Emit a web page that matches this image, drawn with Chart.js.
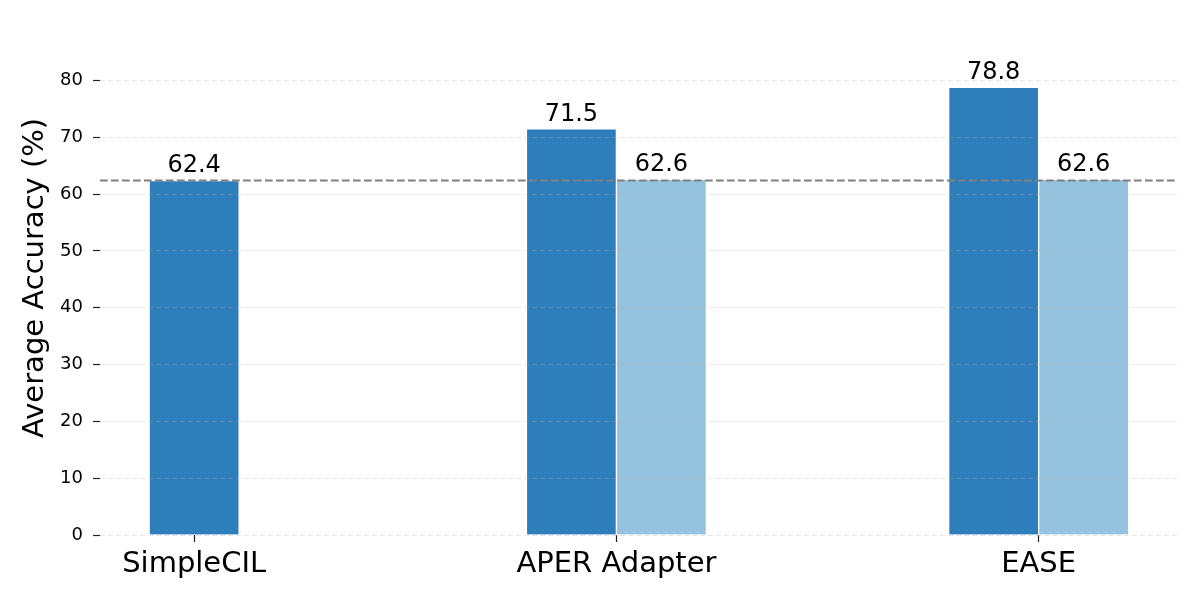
<!DOCTYPE html>
<html lang="en">
<head>
    <meta charset="UTF-8">
    <title>Average Accuracy</title>
    <script src="https://cdn.jsdelivr.net/npm/chart.js"></script>
    <style>
        html, body { margin: 0; padding: 0; background: #fff; }
        .chart-container { width: 1200px; height: 600px; }
    </style>
</head>
<body>
    <div class="chart-container">
        <canvas id="barChart" width="1200" height="600"></canvas>
    </div>
    <script>
        // Data
        var categories = ['SimpleCIL', 'APER Adapter', 'EASE'];
        var baseValues = [62.4, 71.5, 78.8];
        var extraValues = [null, 62.6, 62.6];
        var yTicks = [0, 10, 20, 30, 40, 50, 60, 70, 80];
        var referenceValue = 62.4;

        // Axis limits (matplotlib style margins)
        var yMax = 90.5;
        var xMin = -0.223;
        var xMax = 2.33;

        var FONT = '"DejaVu Sans", sans-serif';

        // Draws the dashed reference line and the value labels on top of the bars
        var annotatePlugin = {
            id: 'annotate',
            afterDraw: function (chart) {
                var ctx = chart.ctx;
                var area = chart.chartArea;
                var yScale = chart.scales.y;
                ctx.save();
                var py = yScale.getPixelForValue(referenceValue);
                ctx.strokeStyle = '#808080';
                ctx.lineWidth = 2;
                ctx.setLineDash([7.7, 3.3]);
                ctx.beginPath();
                ctx.moveTo(area.left, py);
                ctx.lineTo(area.right, py);
                ctx.stroke();

                ctx.setLineDash([]);
                ctx.fillStyle = '#000';
                ctx.font = '24px ' + FONT;
                ctx.textAlign = 'center';
                ctx.textBaseline = 'alphabetic';
                chart.data.datasets.forEach(function (ds, di) {
                    chart.getDatasetMeta(di).data.forEach(function (bar, i) {
                        if (ds.data[i] == null) return;
                        ctx.fillText(ds.data[i].toFixed(1), bar.x, bar.y - 8);
                    });
                });
                ctx.restore();
            }
        };

        var barChartData = {
            labels: categories.map(function (c, i) { return i; }),
            datasets: [{
                label: 'base',
                data: baseValues,
                backgroundColor: '#2f7ebc',
                borderColor: '#fff',
                borderWidth: 1,
                barThickness: 90,
                skipNull: true
            }, {
                label: 'extra',
                data: extraValues,
                backgroundColor: '#95c3df',
                borderColor: '#fff',
                borderWidth: 1,
                barThickness: 90,
                skipNull: true
            }]
        };

        var options = {
            responsive: false,
            animation: false,
            devicePixelRatio: 1,
            layout: { padding: { top: 19, right: 22, left: 0, bottom: 0 } },
            plugins: {
                legend: { display: false },
                tooltip: { enabled: false }
            },
            scales: {
                x: {
                    type: 'linear',
                    min: xMin,
                    max: xMax,
                    offset: false,
                    afterFit: function (s) { s.height = 65; },
                    afterBuildTicks: function (s) {
                        s.ticks = categories.map(function (c, i) { return { value: i }; });
                    },
                    ticks: {
                        callback: function (v) { return categories[v]; },
                        font: { size: 29, family: FONT },
                        color: '#000',
                        padding: 5,
                        maxRotation: 0,
                        autoSkip: false
                    },
                    grid: {
                        offset: false,
                        drawOnChartArea: false,
                        drawTicks: true,
                        tickLength: 7,
                        tickColor: '#222',
                        tickWidth: 1.2
                    },
                    border: { display: false }
                },
                y: {
                    min: 0,
                    max: yMax,
                    afterFit: function (s) { s.width = 100; },
                    afterBuildTicks: function (s) {
                        s.ticks = yTicks.map(function (v) { return { value: v }; });
                    },
                    ticks: {
                        font: { size: 18, family: FONT },
                        color: '#000',
                        padding: 10
                    },
                    title: {
                        display: true,
                        text: 'Average Accuracy (%)',
                        font: { size: 29, family: FONT },
                        color: '#000',
                        padding: { top: 18, bottom: 0 }
                    },
                    grid: {
                        color: 'rgba(176,176,176,0.3)',
                        lineWidth: 1,
                        z: 1,
                        tickLength: 7,
                        tickColor: '#222',
                        tickWidth: 1.2,
                        tickBorderDash: []
                    },
                    border: { display: false, dash: [5, 3] }
                }
            }
        };

        var barChartCtx = document.getElementById('barChart').getContext('2d');
        new Chart(barChartCtx, { type: 'bar', data: barChartData, options: options, plugins: [annotatePlugin] });
    </script>
</body>
</html>
